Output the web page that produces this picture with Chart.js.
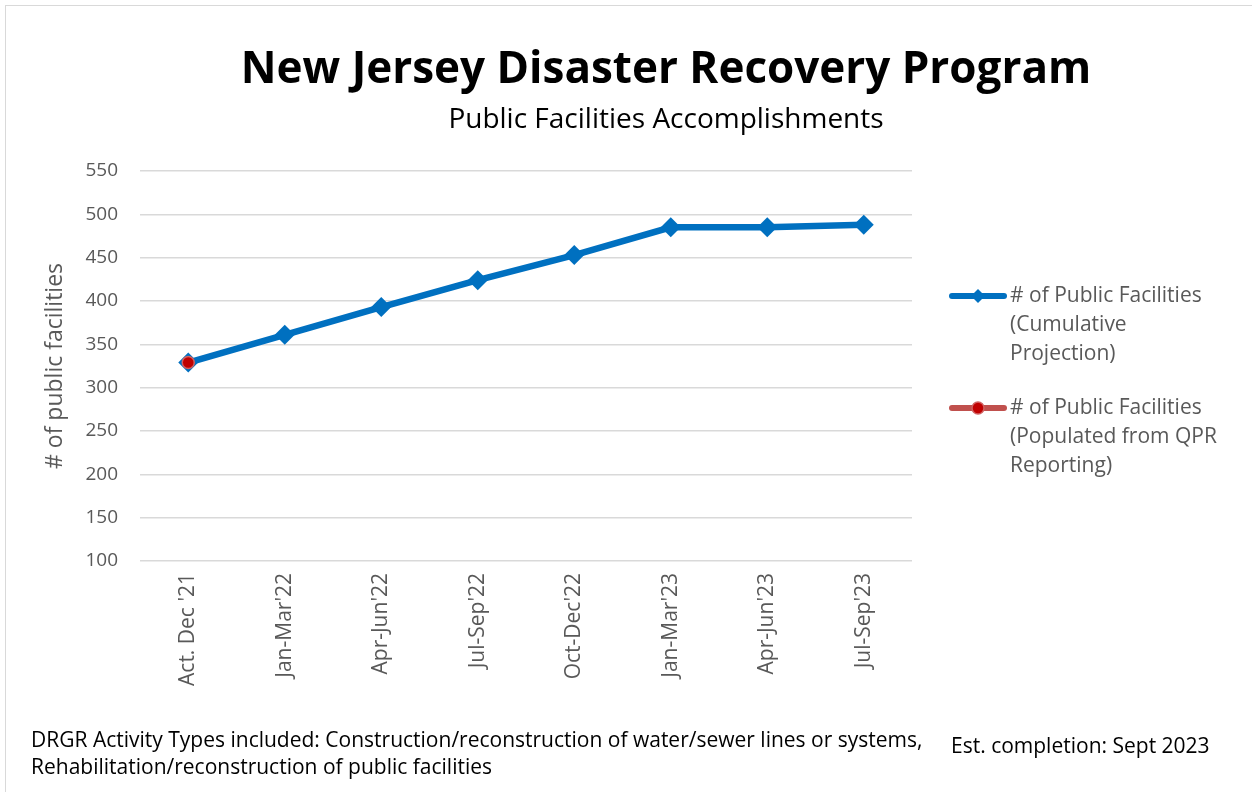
<!DOCTYPE html>
<html>
<head>
<meta charset="utf-8">
<script src="https://cdn.jsdelivr.net/npm/chart.js@4.4.0/dist/chart.umd.min.js"></script>
<style>
  html, body { margin: 0; padding: 0; background: #fff; }
  #wrap { position: relative; width: 1252px; height: 792px; overflow: hidden; font-family: "Open Sans", sans-serif; }
  #wrap canvas { position: absolute; left: 0; top: 0; }
  .frame-top { position: absolute; left: 5px; top: 5px; right: 0; height: 1px; background: #d9d9d9; }
  .frame-left { position: absolute; left: 5px; top: 5px; bottom: 0; width: 1px; background: #d9d9d9; }
  .title { position: absolute; left: 0; width: 1332px; top: 36px; text-align: center; font-weight: bold; font-size: 44px; line-height: 60px; color: #000; }
  .subtitle { position: absolute; left: 0; width: 1332px; top: 99px; text-align: center; font-size: 28px; line-height: 36px; color: #000; }
  .note { position: absolute; left: 31px; top: 726px; font-size: 21px; line-height: 27px; color: #000; }
  .est { position: absolute; left: 951px; top: 731px; font-size: 21px; line-height: 28px; color: #000; }
</style>
</head>
<body>
<div id="wrap">
  <canvas id="chart" width="1252" height="792"></canvas>
  <div class="frame-top"></div>
  <div class="frame-left"></div>
  <div class="title">New Jersey Disaster Recovery Program</div>
  <div class="subtitle">Public Facilities Accomplishments</div>
  <div class="note">DRGR Activity Types included: Construction/reconstruction of water/sewer lines or systems,<br>Rehabilitation/reconstruction of public facilities</div>
  <div class="est">Est. completion: Sept 2023</div>
</div>
<script>
const quarters = ["Act. Dec '21", "Jan-Mar'22", "Apr-Jun'22", "Jul-Sep'22", "Oct-Dec'22", "Jan-Mar'23", "Apr-Jun'23", "Jul-Sep'23"];
const projection = [329, 361, 393, 424, 453, 485, 485, 488];
const qprActual = [329, null, null, null, null, null, null, null];
const legendLines = [
  ["# of Public Facilities", "(Cumulative", "Projection)"],
  ["# of Public Facilities", "(Populated from QPR", "Reporting)"]
];

const grey = '#595959';
const font = '"Open Sans", sans-serif';

// legend drawn by hand so the labels can wrap like the original
const sideLegend = {
  id: 'sideLegend',
  afterDraw(chart) {
    const ctx = chart.ctx;
    const tops = [296, 408];
    chart.data.datasets.forEach((ds, i) => {
      const y = tops[i];
      ctx.save();
      ctx.strokeStyle = ds.legendLine;
      ctx.lineWidth = 6;
      ctx.lineCap = 'round';
      ctx.beginPath();
      ctx.moveTo(952, y);
      ctx.lineTo(1004, y);
      ctx.stroke();
      ctx.fillStyle = ds.pointBackgroundColor;
      ctx.strokeStyle = ds.pointBorderColor;
      ctx.lineWidth = ds.pointBorderWidth;
      ctx.beginPath();
      if (ds.pointStyle === 'rectRot') {
        ctx.moveTo(978, y - 7); ctx.lineTo(985, y); ctx.lineTo(978, y + 7); ctx.lineTo(971, y);
        ctx.closePath();
      } else {
        ctx.arc(978, y, 6, 0, Math.PI * 2);
      }
      ctx.fill();
      if (ds.pointBorderWidth) ctx.stroke();
      ctx.fillStyle = grey;
      ctx.font = '21px ' + font;
      ctx.textBaseline = 'middle';
      legendLines[i].forEach((t, k) => ctx.fillText(t, 1010, y + k * 29));
      ctx.restore();
    });
  }
};

new Chart(document.getElementById('chart'), {
  type: 'line',
  data: {
    labels: quarters,
    datasets: [
      {
        label: '# of Public Facilities (Cumulative Projection)',
        data: projection,
        order: 1,
        borderColor: '#0070C0',
        borderWidth: 6.5,
        pointStyle: 'rectRot',
        pointRadius: 10,
        pointBackgroundColor: '#0070C0',
        pointBorderColor: '#0070C0',
        pointBorderWidth: 0,
        legendLine: '#0070C0',
        tension: 0
      },
      {
        label: '# of Public Facilities (Populated from QPR Reporting)',
        data: qprActual,
        order: 0,
        borderColor: '#C0504D',
        borderWidth: 6,
        pointStyle: 'circle',
        pointRadius: 6,
        pointBackgroundColor: '#C00000',
        pointBorderColor: '#D06060',
        pointBorderWidth: 1.5,
        legendLine: '#C0504D',
        tension: 0
      }
    ]
  },
  options: {
    responsive: false,
    animation: false,
    layout: { padding: { left: 0, top: 171, right: 340, bottom: 101 } },
    plugins: {
      legend: { display: false },
      tooltip: { enabled: false }
    },
    scales: {
      x: {
        offset: true,
        grid: { display: false, drawTicks: false },
        border: { display: false },
        ticks: {
          color: grey,
          font: { family: font, size: 21 },
          minRotation: 90,
          maxRotation: 90,
          padding: 12,
          autoSkip: false
        },
        afterFit(scale) { scale.height = 130; }
      },
      y: {
        min: 100,
        max: 550,
        grid: { color: '#d9d9d9', lineWidth: 1.5, drawTicks: false },
        border: { display: false },
        ticks: {
          stepSize: 50,
          color: grey,
          font: { family: font, size: 19 },
          padding: 22
        },
        title: {
          display: true,
          text: '# of public facilities',
          color: grey,
          font: { family: font, size: 23 },
          padding: { top: 42, bottom: 0 }
        },
        afterFit(scale) { scale.width = 140; }
      }
    }
  },
  plugins: [sideLegend]
});
</script>
</body>
</html>
